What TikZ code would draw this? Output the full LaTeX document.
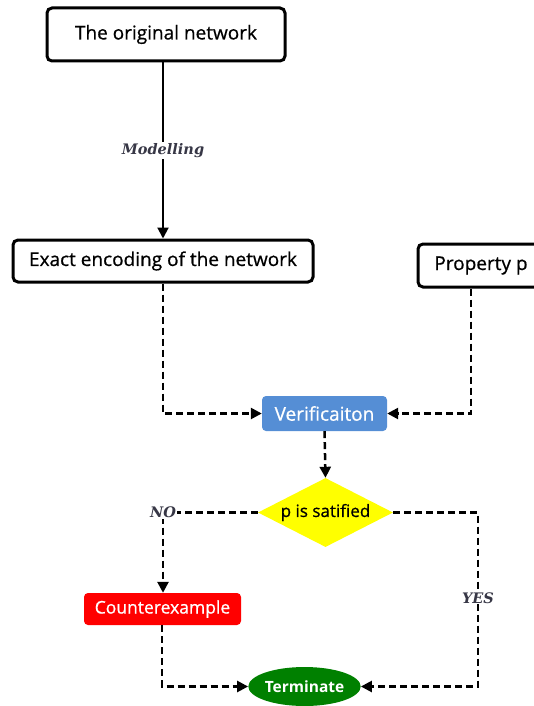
\documentclass[tikz,border=0pt]{standalone}
\usepackage{fontspec}
\setsansfont{Open Sans}
\newfontfamily\boxfont{Open Sans}[FakeBold=0.7]
\newfontfamily\labelfont{DejaVu Serif}
\usetikzlibrary{shapes.geometric,arrows.meta}
\definecolor{verblue}{RGB}{85,142,213}
\definecolor{cered}{RGB}{255,0,0}
\definecolor{termgreen}{RGB}{0,128,0}
\definecolor{condyellow}{RGB}{255,255,0}
\definecolor{labelgray}{RGB}{55,55,70}
\tikzset{
  x=1pt, y=-1pt,
  outlinebox/.style={draw=black, line width=3pt, rounded corners=5pt, fill=white,
    font=\boxfont\fontsize{19}{22}\selectfont, inner sep=0pt, align=center},
  filledbox/.style={rounded corners=4pt, inner sep=0pt, text=white,
    font=\boxfont\fontsize{19}{22}\selectfont},
  solidflow/.style={line width=2pt, -{Triangle[length=11pt,width=11pt]}},
  dashflow/.style={line width=2.5pt, dash pattern=on 7pt off 4pt, -{Triangle[length=11pt,width=11pt]}},
  edgelabel/.style={font=\labelfont\bfseries\itshape\fontsize{14.5}{16}\selectfont, text=labelgray, fill=white, inner sep=1pt}
}
\begin{document}
\begin{tikzpicture}
\useasboundingbox (0,0) rectangle (534,706);
\begin{scope}
\clip (0,0) rectangle (534,706);
% boxes
\node[outlinebox, minimum width=238pt, minimum height=53pt] (orig) at (166,34.5) {The original network};
\node[outlinebox, minimum width=300pt, minimum height=42pt] (enc) at (163,261) {Exact encoding of the network};
\node[outlinebox, minimum width=126pt, minimum height=43pt] (prop) at (481,265.5) {Property p};
\node[filledbox, fill=verblue, minimum width=125pt, minimum height=35pt] (ver) at (324.5,413.5) {Verificaiton};
\node[diamond, aspect=1.95, fill=condyellow, inner sep=0pt, minimum width=135pt, minimum height=69pt] (cond) at (325.5,512.5) {};
\node[font=\boxfont\fontsize{17}{20}\selectfont] at (cond) {p is satified};
\node[filledbox, fill=cered, minimum width=157pt, minimum height=32pt, font=\boxfont\fontsize{17.5}{20}\selectfont] (cex) at (162.5,609) {Counterexample};
\node[ellipse, fill=termgreen, inner sep=0pt, minimum width=101pt, minimum height=39pt, text=white,
  font=\sffamily\bfseries\fontsize{15.5}{18}\selectfont] (term) at (304.5,686.5) {Terminate};
% bend points of the flow lines
\coordinate (encdown) at (163,413.5);
\coordinate (propdown) at (471,413.5);
\coordinate (nocorner) at (163,512.5);
\coordinate (yescorner) at (478,512.5);
\coordinate (yesdown) at (478,686.5);
\coordinate (cexdown) at (162,686.5);
% connectors
\draw[solidflow] (orig.south -| 163,0) -- node[edgelabel] {Modelling} (enc.north -| 163,0);
\draw[dashflow] (enc.south -| 163,0) -- (encdown) -- (ver.west);
\draw[dashflow] (prop.south -| 471,0) -- (propdown) -- (ver.east);
\draw[dashflow] (ver.south) -- (cond.north);
\draw[dashflow] (cond.west) -- (nocorner) -- (cex.north -| 163,0);
\draw[dashflow] (cond.east) -- (yescorner) -- (yesdown) -- (term.east);
\draw[dashflow] (cex.south -| 162,0) -- (cexdown) -- (term.west);
\node[edgelabel] at (nocorner) {NO};
\node[edgelabel] at (478,598) {YES};
\end{scope}
\end{tikzpicture}
\end{document}
